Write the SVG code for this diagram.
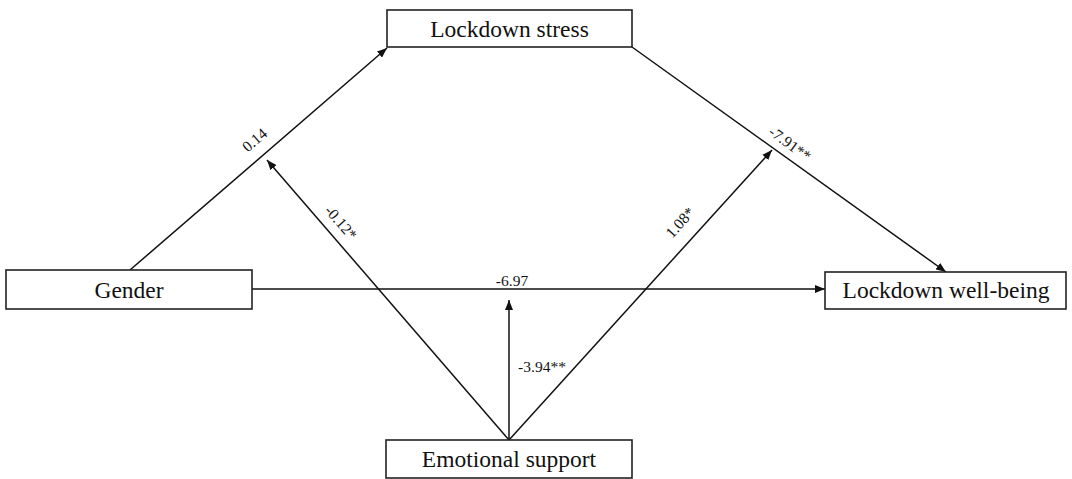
<svg xmlns="http://www.w3.org/2000/svg" width="1072" height="479" viewBox="0 0 1072 479">
<style>
.box{fill:#fff;stroke:#222;stroke-width:1.6}
.nt{font-family:"Liberation Serif","Times New Roman",serif;font-size:23.5px;fill:#111;text-anchor:middle}
.lb{font-family:"Liberation Serif","Times New Roman",serif;font-size:15.5px;fill:#111;text-anchor:middle}
.ln{stroke:#111;stroke-width:1.5;fill:none;marker-end:url(#ah)}
</style>
<defs>
<marker id="ah" viewBox="0 0 10 8" refX="10" refY="4" markerWidth="10" markerHeight="8" markerUnits="userSpaceOnUse" orient="auto">
<path d="M0,0 L10,4 L0,8 Z" fill="#111"/>
</marker>
</defs>
<g id="connectors">
<line class="ln" x1="130" y1="270" x2="387" y2="48"/>
<line class="ln" x1="632" y1="47" x2="946" y2="272"/>
<line class="ln" x1="252" y1="289" x2="825" y2="289"/>
<line class="ln" x1="509" y1="440" x2="509" y2="300"/>
<line class="ln" x1="509" y1="440" x2="267" y2="160"/>
<line class="ln" x1="509" y1="440" x2="772" y2="150"/>
<text class="lb" transform="translate(258,144) rotate(-40.8)">0.14</text>
<text class="lb" transform="translate(337,226) rotate(49)">-0.12*</text>
<text class="lb" transform="translate(787,148) rotate(35.7)">-7.91**</text>
<text class="lb" transform="translate(684,226) rotate(-47.9)">1.08*</text>
<text class="lb" x="512" y="286">-6.97</text>
<text class="lb" x="542" y="372">-3.94**</text>
</g>
<g id="lockdown-stress">
<rect class="box" x="387" y="10" width="245" height="37"/>
<text class="nt" x="509.5" y="37">Lockdown stress</text>
</g>
<g id="gender">
<rect class="box" x="6" y="270" width="246" height="39"/>
<text class="nt" x="129" y="298">Gender</text>
</g>
<g id="lockdown-well-being">
<rect class="box" x="825" y="272" width="241" height="37"/>
<text class="nt" x="946" y="298">Lockdown well-being</text>
</g>
<g id="emotional-support">
<rect class="box" x="386" y="440" width="246" height="38"/>
<text class="nt" x="509" y="467">Emotional support</text>
</g>
</svg>
